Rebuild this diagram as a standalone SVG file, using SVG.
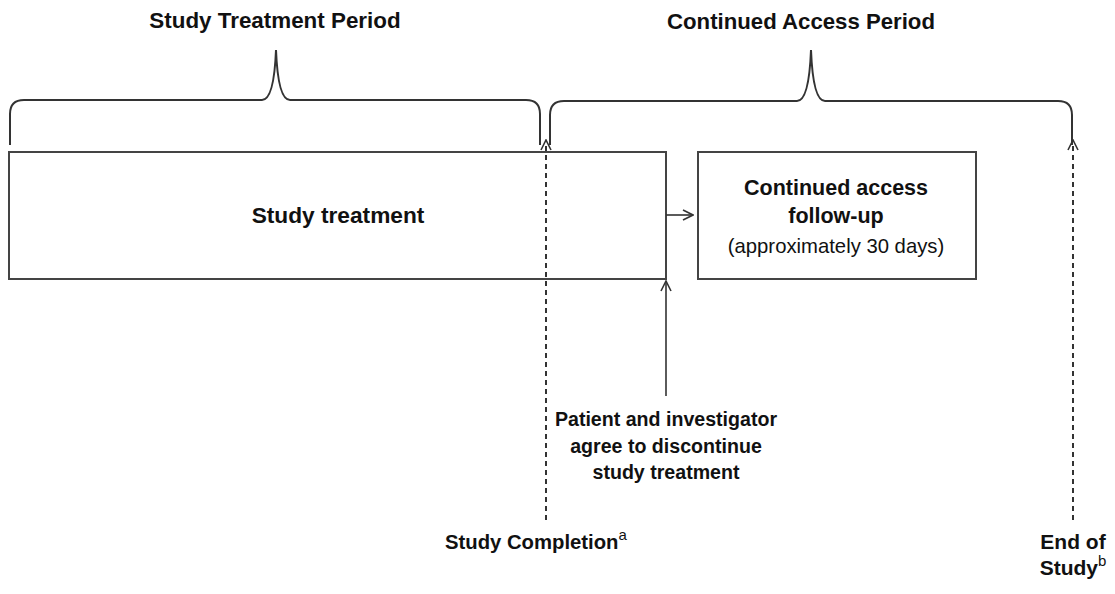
<svg xmlns="http://www.w3.org/2000/svg" width="1115" height="594" viewBox="0 0 1115 594">
<defs>
<marker id="open" viewBox="0 0 12 12" refX="11" refY="6" markerWidth="12" markerHeight="12" markerUnits="userSpaceOnUse" orient="auto">
<path d="M1,1 L11,6 L1,11" fill="none" stroke="#333" stroke-width="1.6"/>
</marker>
</defs>
<style>
text{font-family:"Liberation Sans",Arial,sans-serif;fill:#111}
.b{font-weight:bold}
.box{fill:#fff;stroke:#444;stroke-width:2}
.br{fill:none;stroke:#333;stroke-width:2}
.dash{fill:none;stroke:#333;stroke-width:2;stroke-dasharray:5 4}
.ln{fill:none;stroke:#333;stroke-width:1.6}
</style>
<rect width="1115" height="594" fill="#fff"/>
<g id="header-study">
<text class="b" x="275" y="28" font-size="22.4" text-anchor="middle">Study Treatment Period</text>
<path class="br" d="M10,145 L10,114 Q10,100 24,100 L262,100 Q274,100 276,50 Q278,100 290,100 L526,100 Q540,100 540,114 L540,145"/>
</g>
<g id="header-continued">
<text class="b" x="801" y="29" font-size="22.2" text-anchor="middle">Continued Access Period</text>
<path class="br" d="M550,145 L550,115 Q550,101 564,101 L797,101 Q809,101 811,50 Q813,101 825,101 L1058,101 Q1072,101 1072,115 L1072,145"/>
</g>
<g id="study-treatment">
<rect class="box" x="9" y="152" width="657" height="127"/>
<text class="b" x="338" y="223" font-size="22.7" text-anchor="middle">Study treatment</text>
</g>
<g id="continued-access">
<rect class="box" x="698" y="152" width="278" height="127"/>
<text class="b" x="836" y="195" font-size="21.5" text-anchor="middle">Continued access</text>
<text class="b" x="836" y="223" font-size="21.5" text-anchor="middle">follow-up</text>
<text x="836" y="253" font-size="20.3" text-anchor="middle">(approximately 30 days)</text>
</g>
<g id="connectors">
<line class="ln" x1="666" y1="215" x2="693" y2="215" marker-end="url(#open)"/>
<line class="ln" x1="666" y1="396" x2="666" y2="281" marker-end="url(#open)"/>
<line class="dash" x1="546" y1="520" x2="546" y2="140" marker-end="url(#open)"/>
<line class="dash" x1="1073" y1="520" x2="1073" y2="140" marker-end="url(#open)"/>
</g>
<g id="agree-label">
<text class="b" font-size="19.6" text-anchor="middle"><tspan x="666" y="426">Patient and investigator</tspan><tspan x="666" y="453">agree to discontinue</tspan><tspan x="666" y="479">study treatment</tspan></text>
</g>
<g id="study-completion">
<text class="b" x="445" y="549" font-size="20.3">Study Completion<tspan font-size="15" font-weight="normal" dy="-9">a</tspan></text>
</g>
<g id="end-of-study">
<text class="b" font-size="21" text-anchor="middle"><tspan x="1073" y="549">End of</tspan><tspan x="1073" y="575">Study<tspan font-size="15" font-weight="normal" dy="-9">b</tspan></tspan></text>
</g>
</svg>
